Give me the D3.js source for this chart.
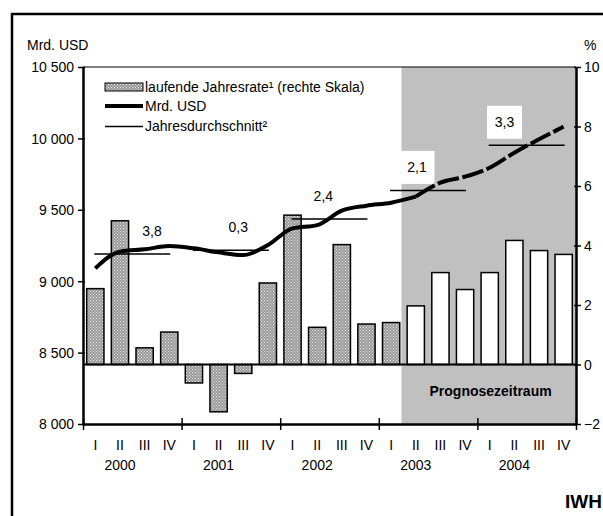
<!DOCTYPE html>
<html>
<head>
<meta charset="utf-8">
<script src="https://cdn.jsdelivr.net/npm/d3@7"></script>
<style>
  body { margin: 0; background: #fff; }
  text { font-family: "Liberation Sans", Arial, sans-serif; font-size: 14px; fill: #000; }
</style>
</head>
<body>
<svg id="chart" width="603" height="516"></svg>
<script>
// data
var years = ["2000", "2001", "2002", "2003", "2004"];
var quarters = ["I", "II", "III", "IV"];
var rate = [2.55, 4.83, 0.56, 1.09, -0.62, -1.59, -0.30, 2.74, 5.02, 1.25, 4.03, 1.36, 1.41, 1.97, 3.09, 2.52, 3.09, 4.17, 3.83, 3.70];
var gdp = [9090, 9207, 9223, 9246, 9230, 9202, 9183, 9253, 9370, 9393, 9494, 9529, 9550, 9592, 9690, 9732, 9795, 9900, 9994, 10082];
var yearAvg = [9190, 9216, 9436, 9636, 9952];
var yearGrowth = ["3,8", "0,3", "2,4", "2,1", "3,3"];
var leftTicks = [8000, 8500, 9000, 9500, 10000, 10500];
var rightTicks = [-2, 0, 2, 4, 6, 8, 10];
var forecastStart = 13; // 2003 II

var keys = [];
years.forEach(function(y) { quarters.forEach(function(q) { keys.push(y + "-" + q) }) });

// layout
var pL = 83, pR = 576, pT = 67, pB = 424;
var labelShift = [0.8, 0.3, -0.25, -0.45, -0.9]; // growth label offset in quarters from year centre

var svg = d3.select("#chart");

var defs = svg.append("defs");
var pat = defs.append("pattern").attr("id", "hatch").attr("patternUnits", "userSpaceOnUse")
    .attr("width", 3).attr("height", 3);
pat.append("rect").attr("width", 3).attr("height", 3).attr("fill", "#9a9a9a");
pat.append("rect").attr("x", 0).attr("y", 0).attr("width", 1).attr("height", 1).attr("fill", "#e8e8e8");
pat.append("rect").attr("x", 1.5).attr("y", 1.5).attr("width", 1).attr("height", 1).attr("fill", "#e8e8e8");

var x = d3.scaleBand().domain(keys).range([pL, pR]).paddingInner(0.3).paddingOuter(0.15);
var xc = function(i) { return x(keys[i]) + x.bandwidth() / 2 };
var step = x.step();
var yL = d3.scaleLinear().domain([8000, 10500]).range([pB, pT]);
var yR = d3.scaleLinear().domain([-2, 10]).range([pB, pT]);

// outer frame
svg.append("rect").attr("x", 12).attr("y", 14).attr("width", 640).attr("height", 540)
    .attr("fill", "none").attr("stroke", "#000").attr("stroke-width", 2.5);

// forecast area
var fx = x(keys[forecastStart]) - step * 0.15 - 2;
svg.append("rect")
    .attr("x", fx).attr("y", pT)
    .attr("width", pR - fx).attr("height", pB - pT)
    .attr("fill", "#c0c0c0");

// plot top line
svg.append("line").attr("x1", pL).attr("x2", pR).attr("y1", pT).attr("y2", pT)
    .attr("stroke", "#000").attr("stroke-width", 1);

// bars
svg.selectAll("rect.bar").data(rate).enter().append("rect")
    .attr("class", "bar")
    .attr("x", function(d, i) { return x(keys[i]) })
    .attr("width", x.bandwidth())
    .attr("y", function(d) { return yR(Math.max(0, d)) })
    .attr("height", function(d) { return Math.abs(yR(d) - yR(0)) })
    .attr("fill", function(d, i) { return i < forecastStart ? "url(#hatch)" : "#fff" })
    .attr("stroke", "#000")
    .attr("stroke-width", 1.5);

// zero line
svg.append("line").attr("x1", pL).attr("x2", pR).attr("y1", yR(0)).attr("y2", yR(0))
    .attr("stroke", "#000").attr("stroke-width", 2);

// growth label boxes and labels
years.forEach(function(y, k) {
    var cx = (xc(k * 4) + xc(k * 4 + 3)) / 2 + labelShift[k] * step;
    var cy = yL(yearAvg[k]) - 23;
    svg.append("rect").attr("x", cx - 17.5).attr("y", cy - 16.5).attr("width", 35).attr("height", 33)
        .attr("fill", "#fff");
    svg.append("text").attr("x", cx).attr("y", cy + 5).attr("text-anchor", "middle").text(yearGrowth[k]);
});

// yearly averages
svg.selectAll("line.avg").data(yearAvg).enter().append("line")
    .attr("class", "avg")
    .attr("x1", function(d, k) { return xc(k * 4) - 1 })
    .attr("x2", function(d, k) { return xc(k * 4 + 3) + 1 })
    .attr("y1", function(d) { return yL(d) })
    .attr("y2", function(d) { return yL(d) })
    .attr("stroke", "#000").attr("stroke-width", 1.5);

// gdp line
var line = d3.line()
    .x(function(d) { return xc(d.i) })
    .y(function(d) { return yL(d.v) })
    .curve(d3.curveMonotoneX);
var pts = gdp.map(function(v, i) { return { i: i, v: v } });
svg.append("path").attr("d", line(pts.slice(0, forecastStart + 1)))
    .attr("fill", "none").attr("stroke", "#000").attr("stroke-width", 4).attr("stroke-linejoin", "round");
svg.append("path").attr("d", line(pts.slice(forecastStart)))
    .attr("fill", "none").attr("stroke", "#000").attr("stroke-width", 4)
    .attr("stroke-dasharray", "22,3.5");

// axes
var axL = svg.append("g").attr("transform", "translate(" + pL + ",0)")
    .call(d3.axisLeft(yL).tickValues(leftTicks).tickSizeInner(5).tickSizeOuter(0)
        .tickFormat(function(d) { return d3.format(",")(d).replace(",", " ") }));
var axR = svg.append("g").attr("transform", "translate(" + pR + ",0)")
    .call(d3.axisRight(yR).tickValues(rightTicks).tickSizeInner(5).tickSizeOuter(0));
[axL, axR].forEach(function(g) {
    g.select(".domain").attr("stroke-width", 2.5);
    g.selectAll(".tick line").attr("stroke-width", 1.5);
    g.selectAll(".tick text").attr("dy", "0.35em");
});
axL.selectAll(".tick line").attr("x1", 2);
axL.selectAll(".tick text").attr("x", -9);
axR.selectAll(".tick line").attr("x1", -2);
axR.selectAll(".tick text").attr("x", 8);

var xYear = d3.scaleLinear().domain([0, years.length]).range([pL, pR]);
var axB = svg.append("g").attr("transform", "translate(0," + pB + ")")
    .call(d3.axisBottom(xYear).tickValues(d3.range(0, years.length + 1)).tickSizeInner(6).tickSizeOuter(0).tickFormat(""));
axB.select(".domain").attr("stroke-width", 2.5);
axB.selectAll(".tick line").attr("stroke-width", 1.5).attr("y1", -6);

// category labels
svg.selectAll("text.q").data(keys).enter().append("text")
    .attr("class", "q")
    .attr("x", function(d, i) { return xc(i) })
    .attr("y", 450)
    .attr("text-anchor", "middle")
    .text(function(d) { return d.split("-")[1] });
svg.selectAll("text.yr").data(years).enter().append("text")
    .attr("class", "yr")
    .attr("x", function(d, k) { return xc(k * 4 + 1) })
    .attr("y", 470)
    .attr("text-anchor", "middle")
    .text(function(d) { return d });

// axis titles
svg.append("text").attr("x", 27).attr("y", 50).text("Mrd. USD");
svg.append("text").attr("x", 584).attr("y", 50).text("%");

// forecast label
svg.append("text").attr("x", (x(keys[forecastStart]) + pR) / 2 - 1).attr("y", 396)
    .attr("text-anchor", "middle").attr("font-weight", "bold").text("Prognosezeitraum");

// legend
var lg = svg.append("g");
lg.append("rect").attr("x", 105).attr("y", 83).attr("width", 38).attr("height", 8)
    .attr("fill", "url(#hatch)").attr("stroke", "#000").attr("stroke-width", 1);
lg.append("text").attr("x", 145).attr("y", 92).text("laufende Jahresrate\u00b9 (rechte Skala)");
lg.append("line").attr("x1", 105).attr("x2", 143).attr("y1", 106).attr("y2", 106)
    .attr("stroke", "#000").attr("stroke-width", 4);
lg.append("text").attr("x", 145).attr("y", 111).text("Mrd. USD");
lg.append("line").attr("x1", 105).attr("x2", 143).attr("y1", 126.5).attr("y2", 126.5)
    .attr("stroke", "#000").attr("stroke-width", 1.5);
lg.append("text").attr("x", 145).attr("y", 131).text("Jahresdurchschnitt\u00b2");

// source
svg.append("text").attr("x", 565).attr("y", 508).attr("font-weight", "bold")
    .style("font-size", "19px").text("IWH");
</script>
</body>
</html>
